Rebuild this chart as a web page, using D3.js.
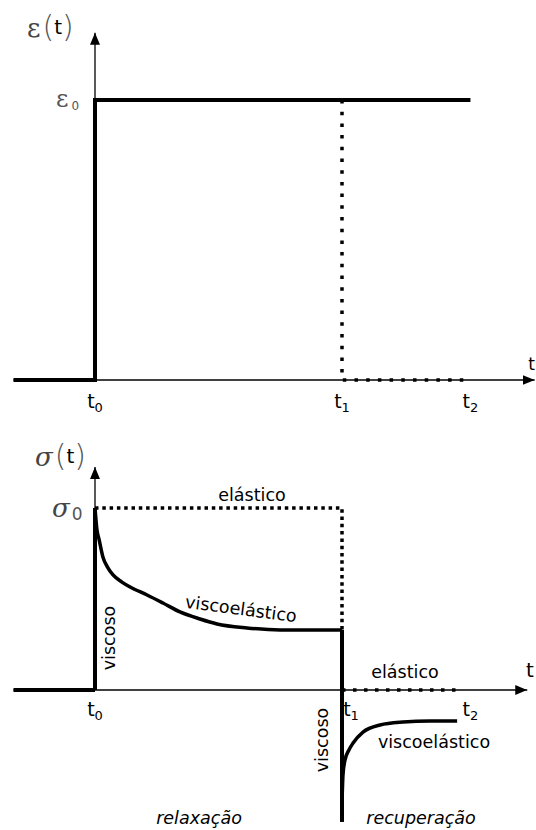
<!DOCTYPE html>
<html>
<head>
<meta charset="utf-8">
<script src="https://cdn.jsdelivr.net/npm/d3@7"></script>
<style>
  html, body { margin: 0; padding: 0; background: #fff; }
  svg { display: block; }
  text { font-family: "DejaVu Sans", sans-serif; }
</style>
</head>
<body>
<div id="chart"></div>
<script>
// Time marks on both time axes
const timeLabels = ["t", "t", "t"];
const timeSubs = ["0", "1", "2"];
const timeValues = [0, 1, 1.52];

// Strain history (upper panel): step of ε0 applied at t0
const strainStep = [[-0.33, 0], [0, 0], [0, 1], [1.52, 1]];
// Strain removed at t1 (dotted)
const strainRelease = [[1, 1], [1, 0], [1.52, 0]];

// Stress response (lower panel)
const relaxTimes = [0, 0.008, 0.016, 0.032, 0.053, 0.073, 0.109, 0.142, 0.211, 0.275, 0.344, 0.425, 0.494, 0.615, 0.749, 1.0];
const relaxStress = [1, 0.879, 0.83, 0.731, 0.67, 0.632, 0.593, 0.566, 0.522, 0.478, 0.429, 0.39, 0.363, 0.341, 0.33, 0.33];
const recovTimes = [1.0, 1.004, 1.012, 1.028, 1.045, 1.085, 1.154, 1.247, 1.356, 1.466];
const recovStress = [-0.62, -0.467, -0.385, -0.33, -0.291, -0.231, -0.192, -0.176, -0.17, -0.17];
const elasticStress = [[0, 1], [1, 1], [1, 0.33]];
const elasticAfter = [[1, 0], [1.49, 0]];
const viscousLoad = [[0, 0], [0, 1]];
const viscousUnload = [[1, 0.33], [1, -0.725]];
const baseStress = [[-0.33, 0], [0, 0]];

const W = 536, H = 830;
const svg = d3.select("#chart").append("svg").attr("width", W).attr("height", H);

const x = d3.scaleLinear().domain([0, 1]).range([95, 342]);
const yE = d3.scaleLinear().domain([0, 1]).range([380, 100]);
const yS = d3.scaleLinear().domain([0, 1]).range([690, 508]);

// arrowhead marker
const defs = svg.append("defs");
defs.append("marker")
  .attr("id", "arrow")
  .attr("viewBox", "0 0 12 10")
  .attr("refX", 12).attr("refY", 5)
  .attr("markerWidth", 12).attr("markerHeight", 10)
  .attr("markerUnits", "userSpaceOnUse")
  .attr("orient", "auto")
  .append("path").attr("d", "M0,0 L12,5 L0,10 Z").attr("fill", "#000");

function axes(g, y, xMin, xMax, yMax) {
  g.append("line")
    .attr("x1", x(xMin)).attr("y1", y(0)).attr("x2", x(xMax)).attr("y2", y(0))
    .attr("stroke", "#000").attr("stroke-width", 1.3).attr("marker-end", "url(#arrow)");
  g.append("line")
    .attr("x1", x(0)).attr("y1", y(0)).attr("x2", x(0)).attr("y2", y(yMax))
    .attr("stroke", "#000").attr("stroke-width", 1.3).attr("marker-end", "url(#arrow)");
}

// time labels; shift moves the label at t1 clear of a vertical line
function tLabels(g, yPos, shift) {
  timeValues.forEach((v, i) => {
    const dx = (i === 1) ? shift : 0;
    const t = g.append("text").attr("x", x(v) + dx).attr("y", yPos)
      .attr("text-anchor", "middle").attr("font-size", 19).attr("fill", "#000");
    t.append("tspan").text(timeLabels[i]);
    t.append("tspan").attr("font-size", 13).attr("dy", 4).text(timeSubs[i]);
  });
}

// ---------- upper panel: ε(t) ----------
const gE = svg.append("g");
axes(gE, yE, -0.33, 1.78, 1.24);
const lineE = d3.line().x(d => x(d[0])).y(d => yE(d[1]));
gE.append("path").attr("d", lineE(strainStep))
  .attr("fill", "none").attr("stroke", "#000").attr("stroke-width", 4);
gE.append("path").attr("d", lineE(strainRelease))
  .attr("fill", "none").attr("stroke", "#000").attr("stroke-width", 3.5)
  .attr("stroke-dasharray", "3.5,8.2");

// axis titles
const eTitle = gE.append("text").attr("x", 27).attr("y", 37).attr("fill", "#000");
eTitle.append("tspan").attr("font-family", "DejaVu Serif").attr("font-size", 26).attr("fill", "#444").text("ε");
eTitle.append("tspan").attr("font-size", 30).attr("font-weight", 200).attr("fill", "#555").attr("dx", 2).text("(");
eTitle.append("tspan").attr("font-size", 20).attr("dy", -3).text("t");
eTitle.append("tspan").attr("font-size", 30).attr("font-weight", 200).attr("fill", "#555").attr("dy", 3).text(")");

const e0 = gE.append("text").attr("x", 56).attr("y", 107).attr("fill", "#555");
e0.append("tspan").attr("font-family", "DejaVu Serif").attr("font-size", 24).text("ε");
e0.append("tspan").attr("font-size", 12).attr("dx", 3).attr("dy", 3).text("0");

gE.append("text").attr("x", 535).attr("y", 370).attr("text-anchor", "end").attr("font-size", 17).text("t");
tLabels(gE, 408, 0);

// ---------- lower panel: σ(t) ----------
const gS = svg.append("g");
axes(gS, yS, -0.33, 1.75, 1.225);
const lineS = d3.line().x(d => x(d[0])).y(d => yS(d[1]));
const curveS = d3.line().x(d => x(d[0])).y(d => yS(d[1])).curve(d3.curveMonotoneX);

gS.append("path").attr("d", lineS(baseStress))
  .attr("fill", "none").attr("stroke", "#000").attr("stroke-width", 4);
gS.append("path").attr("d", lineS(viscousLoad))
  .attr("fill", "none").attr("stroke", "#000").attr("stroke-width", 4);
gS.append("path").attr("d", lineS(elasticStress))
  .attr("fill", "none").attr("stroke", "#000").attr("stroke-width", 3.5)
  .attr("stroke-dasharray", "3.5,3.8");
gS.append("path").attr("d", lineS(elasticAfter))
  .attr("fill", "none").attr("stroke", "#000").attr("stroke-width", 3.5)
  .attr("stroke-dasharray", "3.5,7.5");
gS.append("path").attr("d", curveS(relaxTimes.map((t, i) => [t, relaxStress[i]])))
  .attr("fill", "none").attr("stroke", "#000").attr("stroke-width", 3.5);
gS.append("path").attr("d", lineS(viscousUnload))
  .attr("fill", "none").attr("stroke", "#000").attr("stroke-width", 4);
gS.append("path").attr("d", curveS(recovTimes.map((t, i) => [t, recovStress[i]])))
  .attr("fill", "none").attr("stroke", "#000").attr("stroke-width", 3.5);

const sTitle = gS.append("text").attr("x", 35).attr("y", 466).attr("fill", "#000");
sTitle.append("tspan").attr("font-family", "DejaVu Serif").attr("font-style", "italic").attr("font-size", 26).attr("fill", "#444").text("σ");
sTitle.append("tspan").attr("font-size", 30).attr("font-weight", 200).attr("fill", "#555").attr("dx", 2).text("(");
sTitle.append("tspan").attr("font-size", 20).attr("dy", -3).text("t");
sTitle.append("tspan").attr("font-size", 30).attr("font-weight", 200).attr("fill", "#555").attr("dy", 3).text(")");

const s0 = gS.append("text").attr("x", 52).attr("y", 517).attr("fill", "#444");
s0.append("tspan").attr("font-family", "DejaVu Serif").attr("font-style", "italic").attr("font-size", 26).text("σ");
s0.append("tspan").attr("font-size", 17).attr("fill", "#555").attr("dx", 2).attr("dy", 3).text("0");

gS.append("text").attr("x", 530).attr("y", 677).attr("text-anchor", "middle").attr("font-size", 20).text("t");
tLabels(gS, 716, 9);

// annotations
const fs = 17.5;
gS.append("text").attr("x", 252).attr("y", 501).attr("text-anchor", "middle").attr("font-size", fs).text("elástico");
gS.append("text").attr("transform", "translate(241,609) rotate(7.5)")
  .attr("text-anchor", "middle").attr("dominant-baseline", "central").attr("font-size", fs).text("viscoelástico");
gS.append("text").attr("transform", "translate(109,638) rotate(-90)")
  .attr("text-anchor", "middle").attr("dominant-baseline", "central").attr("font-size", fs).text("viscoso");
gS.append("text").attr("transform", "translate(322,740) rotate(-90)")
  .attr("text-anchor", "middle").attr("dominant-baseline", "central").attr("font-size", fs).text("viscoso");
gS.append("text").attr("x", 405).attr("y", 678).attr("text-anchor", "middle").attr("font-size", fs).text("elástico");
gS.append("text").attr("x", 434).attr("y", 748).attr("text-anchor", "middle").attr("font-size", fs).text("viscoelástico");
gS.append("text").attr("x", 199).attr("y", 824).attr("text-anchor", "middle").attr("font-size", fs).attr("font-style", "italic").text("relaxação");
gS.append("text").attr("x", 421).attr("y", 824).attr("text-anchor", "middle").attr("font-size", fs).attr("font-style", "italic").text("recuperação");
</script>
</body>
</html>
